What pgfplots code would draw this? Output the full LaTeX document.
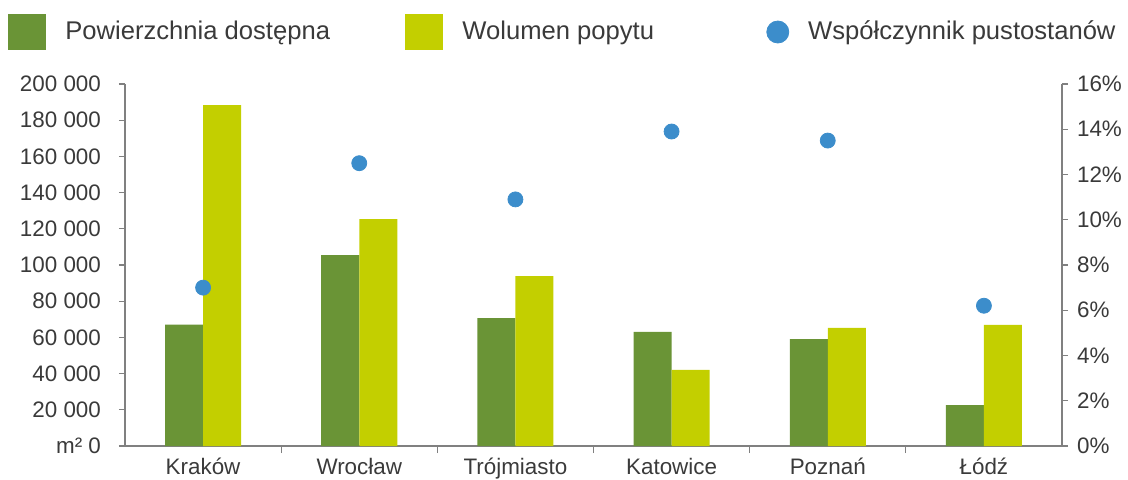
\documentclass[border=0pt]{standalone}
\usepackage{pgfplots}
\pgfplotsset{compat=1.18}
\usepackage{fontspec}
\setmainfont{Liberation Sans}
\definecolor{dg}{HTML}{6A9436}
\definecolor{lg}{HTML}{C3CF00}
\definecolor{bl}{HTML}{3C8DCB}
\definecolor{axg}{HTML}{808080}
\definecolor{txt}{HTML}{3A3A3A}
\begin{document}
\begin{tikzpicture}
\useasboundingbox (0,0) rectangle (564pt,239.5pt);
\begin{axis}[
  at={(62.5pt,16.5pt)}, anchor=south west,
  scale only axis, width=468.5pt, height=181pt,
  xmin=-0.5, xmax=5.5, ymin=0, ymax=200000,
  scaled y ticks=false,
  axis x line*=bottom, axis y line*=left,
  axis line style={-, draw=axg, line width=0.6pt},
  xtick={0,1,2,3,4,5},
  xticklabels={Kraków,Wrocław,Trójmiasto,Katowice,Poznań,Łódź},
  major x tick style={draw=none},
  minor xtick={0.5,1.5,2.5,3.5,4.5},
  minor x tick style={draw=axg, line width=0.6pt},
  minor tick length=3.5pt,
  ytick={0,20000,40000,60000,80000,100000,120000,140000,160000,180000,200000},
  yticklabels={m² 0,20 000,40 000,60 000,80 000,100 000,120 000,140 000,160 000,180 000,200 000},
  y tick style={draw=axg, line width=0.6pt},
  major tick length=3pt,
  tick align=outside,
  tick label style={text=txt, font=\fontsize{11.2}{13}\selectfont},
  yticklabel style={xshift=-5.5pt},
  xticklabel style={yshift=0.5pt},
  legend columns=3,
  legend style={draw=none, fill=none, inner sep=0pt, at={(0,1)}, anchor=west,
    xshift=-58.5pt, yshift=26pt, text=txt, font=\fontsize{12.8}{15}\selectfont,
    nodes={inner sep=0pt},
    /tikz/every odd column/.append style={column sep=9.5pt}},
]
\addplot[ybar, bar width=19pt, bar shift=-9.5pt, fill=dg, draw=none,
  legend image code/.code={\fill[dg] (0pt,-9pt) rectangle (19pt,9pt);}]
  coordinates {(0,67000) (1,105500) (2,70700) (3,63000) (4,59100) (5,22600)};
\addlegendentry{\makebox[170pt][l]{Powierzchnia dostępna}}
\addplot[ybar, bar width=19pt, bar shift=9.5pt, fill=lg, draw=none,
  legend image code/.code={\fill[lg] (0pt,-9pt) rectangle (19pt,9pt);}]
  coordinates {(0,188400) (1,125400) (2,93900) (3,42000) (4,65200) (5,66900)};
\addlegendentry{\makebox[142.5pt][l]{Wolumen popytu}}
\addlegendimage{legend image code/.code={\fill[white, opacity=0] (0pt,-9pt) rectangle (20.5pt,9pt); \fill[bl] (15pt,0pt) circle (5.5pt);}}
\addlegendentry{Współczynnik pustostanów}
\end{axis}
\begin{axis}[
  at={(62.5pt,16.5pt)}, anchor=south west,
  scale only axis, width=468.5pt, height=181pt,
  xmin=-0.5, xmax=5.5, ymin=0, ymax=16,
  axis x line=none, axis y line*=right,
  axis line style={-, draw=axg, line width=0.6pt},
  ytick={0,2,4,6,8,10,12,14,16},
  yticklabels={0\%,2\%,4\%,6\%,8\%,10\%,12\%,14\%,16\%},
  y tick style={draw=axg, line width=0.6pt},
  major tick length=3pt,
  tick align=outside,
  tick label style={text=txt, font=\fontsize{11.2}{13}\selectfont},
  yticklabel style={xshift=1pt},
]
\addplot[only marks, mark=*, mark size=3.75pt, color=bl, mark options={draw=none, fill=bl}]
  coordinates {(0,7.0) (1,12.5) (2,10.9) (3,13.9) (4,13.5) (5,6.2)};
\end{axis}
\end{tikzpicture}
\end{document}
